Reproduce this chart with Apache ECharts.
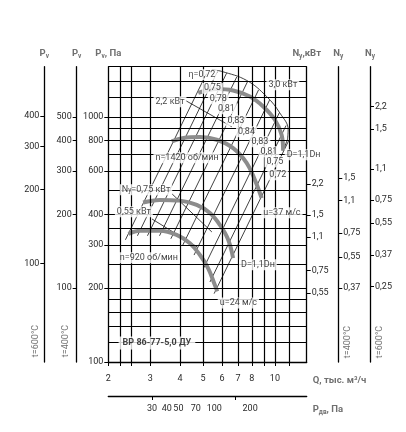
<!DOCTYPE html>
<html>
<head>
<meta charset="utf-8">
<script src="https://cdn.jsdelivr.net/npm/echarts@6/dist/echarts.min.js"></script>
<style>
  html, body { margin: 0; padding: 0; background: #fff; }
  #chart { width: 406px; height: 432px; }
</style>
</head>
<body>
<div id="chart"></div>
<script>
// Q, тыс. м³/ч and Pv, Па ranges of the main field
const qRange = [2, 13.6]
const pvRange = [100, 1600]
const pdvRange = [12.9, 597]

const qTickLabels = [2, 3, 4, 5, 6, 7, 8, 10]
const qGrid = [2.25, 2.5, 3, 4, 5, 6, 7, 8, 9, 10, 11.5]
const pvTickLabels = [100, 200, 300, 400, 600, 800, 1000]
const pvGrid = [120, 140, 160, 180, 200, 250, 300, 350, 400, 500, 600, 700, 800, 900, 1000, 1200, 1400, 1600]
const pv400Ticks = [100, 200, 300, 400, 500]
const pv600Ticks = [100, 200, 300, 400]
const pdvTickLabels = [30, 40, 50, 70, 100, 200]
const pdvTicks = [30, 150]

// N axes: tick text and where it sits on the Pv scale
const nLabels20 = ['2,2', '1,5', '1,1', '0,75', '0,55']
const nAt20 = [533, 398, 324, 236, 191]
const nLabels400 = ['1,5', '1,1', '0,75', '0,55', '0,37']
const nAt400 = [562, 455, 335, 268, 200]
const nLabels600 = ['2,2', '1,5', '1,1', '0,75', '0,55', '0,37', '0,25']
const nAt600 = [1102, 891, 611, 458, 368, 273, 203]

// characteristics [Q, Pv]
const curve1420a = [[4.77, 1250], [5.70, 1298], [6.68, 1280], [7.85, 1210], [8.93, 1102], [10.0, 972], [10.67, 844], [10.83, 726]]
const curve1420b = [[3.69, 793], [4.13, 819], [4.85, 826], [5.70, 806], [6.68, 745], [7.61, 649], [8.24, 553], [8.80, 466]]
const curve920a = [[2.80, 447], [3.29, 458], [4.0, 455], [4.70, 437], [5.34, 405], [5.88, 362], [6.37, 315], [6.68, 265]]
const curve920b = [[2.43, 333], [2.72, 343], [3.29, 343], [3.87, 330], [4.40, 305], [4.85, 273], [5.25, 241], [5.60, 206], [5.73, 194]]

// efficiency lines (top, bottom)
const etaLines = [
  [[5.16, 1498], [2.36, 315]],
  [[5.74, 1527], [2.65, 327]],
  [[6.27, 1505], [2.92, 327]],
  [[6.92, 1454], [3.28, 327]],
  [[7.69, 1395], [3.66, 318]],
  [[8.54, 1286], [4.11, 300]],
  [[9.50, 1170], [4.58, 273]],
  [[10.44, 1038], [5.03, 242]],
  [[11.14, 921], [5.34, 212]],
  [[11.48, 806], [5.56, 190]]
]

// power lines
const power30 = [[5.44, 1555], [5.98, 1531], [7.61, 1407], [9.23, 1210], [10.5, 1035], [11.37, 885], [11.3, 810]]
const power30Tail = [[11.3, 810], [10.83, 726]]
const power22 = [[4.23, 1163], [6.60, 910]]
const power075 = [[3.70, 485], [5.44, 339]]
const power055 = [[3.05, 383], [4.71, 295]]

// text on the field [text, Q, Pv]
const notes = [
  ['η=0,72', 4.94, 1484], ['0,75', 5.47, 1307], ['0,78', 5.79, 1184], ['0,81', 6.26, 1078],
  ['0,83', 6.86, 963], ['0,84', 7.60, 869], ['0,83', 8.65, 791], ['0,81', 9.44, 720],
  ['0,75', 10.0, 655], ['0,72', 10.29, 580],
  ['2,2 кВт', 3.63, 1151], ['3,0 кВт', 10.8, 1351],
  ['n=1420 об/мин', 4.28, 680], ['D=1,1Dн', 13.2, 700], ['u=37 м/с', 10.7, 406],
  ['N{s|у}=0,75 кВт', 2.88, 504], ['0,55 кВт', 2.56, 410], ['n=920 об/мин', 2.96, 266],
  ['D=1,1Dн', 8.49, 249], ['u=24 м/с', 7.03, 174],
  ['{b|ВР 86-77-5,0 ДУ}', 3.20, 119.6]
]

const FONT = 'Roboto, "Noto Sans", sans-serif'
const SIZE = 9
const INK = '#2a2a2a'
const GREY = '#707070'
const subStyle = { fontSize: 6.5, lineHeight: 8, verticalAlign: 'bottom', fontFamily: FONT }
const titleStyle = {
  color: GREY, fontSize: 9.5, fontWeight: 'bold', fontFamily: FONT, lineHeight: 12,
  rich: { s: Object.assign({ color: GREY, fontWeight: 'bold' }, subStyle) }
}

function pick(labels, at) {
  return (v) => {
    const i = at.findIndex((a) => Math.abs(a - v) < 0.5)
    return i < 0 ? '' : labels[i]
  }
}

function makeY(position, offset, range, ticks, formatter, name) {
  return {
    type: 'log', position, offset, min: range[0], max: range[1], name,
    nameLocation: 'end', nameGap: 7, nameTextStyle: titleStyle,
    axisLine: { show: true, onZero: false, lineStyle: { color: '#000', width: 1.3 } },
    axisTick: { show: true, length: 4, customValues: ticks, lineStyle: { color: '#000', width: 1 } },
    axisLabel: {
      customValues: ticks, formatter: formatter || ((v) => String(Math.round(v))),
      color: INK, fontSize: SIZE, fontFamily: FONT, margin: 5
    },
    splitLine: { show: false }
  }
}

function thin(data, width) {
  return {
    type: 'line', data, symbol: 'none', silent: true, z: 3, animation: false,
    lineStyle: { color: '#111', width: width || 0.8 }
  }
}

function thick(data) {
  return {
    type: 'line', data, symbol: 'none', silent: true, z: 4, smooth: 0.4, animation: false,
    lineStyle: { color: '#8c8c8c', width: 4, cap: 'butt' }
  }
}

const chart = echarts.init(document.getElementById('chart'))

const series = [
  {
    type: 'line', data: [[qRange[0], pvRange[0]]], symbol: 'none', silent: true, z: 1,
    lineStyle: { opacity: 0 },
    markLine: {
      silent: true, symbol: 'none', animation: false, label: { show: false },
      lineStyle: { color: '#000', width: 1.2, type: 'solid' },
      emphasis: { disabled: true },
      data: pvGrid.map((v) => ({ yAxis: v })).concat(qGrid.map((v) => ({ xAxis: v })))
    }
  }
]
etaLines.forEach((l) => series.push(thin(l)))
series.push(Object.assign(thin(power30), { smooth: 0.4 }))
series.push(thin(power30Tail))
series.push(thin(power22))
series.push(thin(power075))
series.push(thin(power055))
;[curve1420a, curve1420b, curve920a, curve920b].forEach((c) => series.push(thick(c)))
series.push({
  type: 'scatter', symbolSize: 0.1, silent: true, z: 10, animation: false,
  itemStyle: { color: 'rgba(0,0,0,0)' },
  data: notes.map((n) => ({ name: n[0], value: [n[1], n[2]] })),
  label: {
    show: true, position: 'inside', formatter: '{b}', color: '#111', fontSize: SIZE, fontFamily: FONT,
    backgroundColor: '#fff', padding: [1, 2],
    rich: {
      s: Object.assign({ color: '#111' }, subStyle),
      b: { fontWeight: 'bold', fontSize: SIZE, color: '#111', fontFamily: FONT, padding: [1, 2] }
    }
  }
})

const tempStyle = { fill: GREY, fontSize: SIZE, fontFamily: FONT, align: 'center', verticalAlign: 'middle' }
const tempText = (text, x, y) => ({
  type: 'text', x, y, rotation: Math.PI / 2, silent: true,
  style: Object.assign({ text }, tempStyle)
})

chart.setOption({
  animation: false,
  grid: { left: 108.3, right: 99.3, top: 66.7, bottom: 70 },
  xAxis: [
    {
      type: 'log', min: qRange[0], max: qRange[1], position: 'bottom',
      name: 'Q, тыс. м³/ч', nameLocation: 'end', nameGap: 6,
      nameTextStyle: Object.assign({}, titleStyle, { verticalAlign: 'top', padding: [13, 0, 0, 0] }),
      axisLine: { show: true, onZero: false, lineStyle: { color: '#000', width: 1.3 } },
      axisTick: { show: true, length: 4, customValues: [qRange[0]].concat(qGrid), lineStyle: { color: '#000', width: 1 } },
      axisLabel: { customValues: qTickLabels, formatter: (v) => String(v), color: INK, fontSize: SIZE, fontFamily: FONT, margin: 12 },
      splitLine: { show: false }
    },
    {
      type: 'log', min: pdvRange[0], max: pdvRange[1], position: 'bottom', offset: 34,
      name: 'P{s|дв}, Па', nameLocation: 'end', nameGap: 6,
      nameTextStyle: Object.assign({}, titleStyle, { verticalAlign: 'top', padding: [8, 0, 0, 0] }),
      axisLine: { show: true, onZero: false, lineStyle: { color: '#000', width: 1.3 } },
      axisTick: { show: true, length: 4, customValues: pdvTicks, lineStyle: { color: '#000', width: 1 } },
      axisLabel: { customValues: pdvTickLabels, formatter: (v) => String(Math.round(v)), color: INK, fontSize: SIZE, fontFamily: FONT, margin: 8 },
      splitLine: { show: false }
    }
  ],
  yAxis: [
    makeY('left', 0, pvRange, pvTickLabels, null, 'P{s|v}, Па'),
    makeY('left', 31.6, [pvRange[0] / 2, pvRange[1] / 2], pv400Ticks, null, 'P{s|v}'),
    makeY('left', 64, [pvRange[0] / 2.52, pvRange[1] / 2.52], pv600Ticks, null, 'P{s|v}'),
    makeY('right', 0, pvRange, nAt20, pick(nLabels20, nAt20), 'N{s|у},кВт'),
    makeY('right', 31.6, pvRange, nAt400, pick(nLabels400, nAt400), 'N{s|у}'),
    makeY('right', 63.3, pvRange, nAt600, pick(nLabels600, nAt600), 'N{s|у}')
  ],
  graphic: [
    tempText('t=600°C', 36, 341),
    tempText('t=400°C', 66, 341),
    tempText('t=400°C', 348, 342),
    tempText('t=600°C', 380, 342)
  ],
  series
})
</script>
</body>
</html>
